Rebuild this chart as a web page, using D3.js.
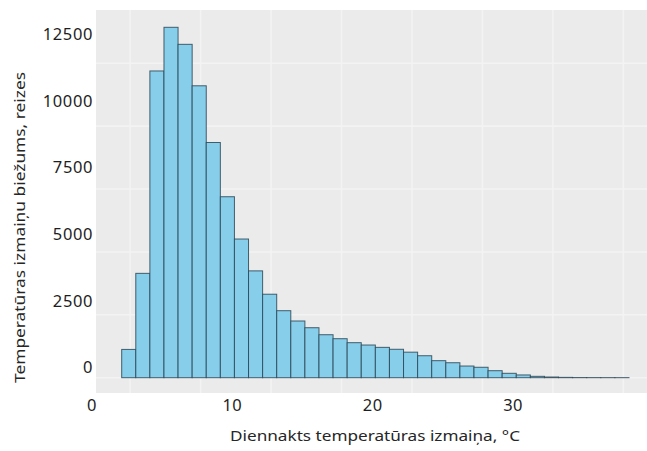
<!DOCTYPE html>
<html><head><meta charset="utf-8">
<script src="https://cdn.jsdelivr.net/npm/d3@7"></script>
<style>body{margin:0;background:#fff;} svg{display:block}</style>
</head><body><svg id="c" width="647" height="451"></svg>
<script>
// bins of width 1 °C, starting at 2 °C
const binStarts = [2,3,4,5,6,7,8,9,10,11,12,13,14,15,16,17,18,19,20,21,22,23,24,25,26,27,28,29,30,31,32,33,34,35,36,37];
const counts = [1030,3800,11170,12760,12140,10630,8565,6590,5050,3890,3040,2440,2065,1820,1565,1420,1275,1190,1105,1035,930,800,620,545,425,380,255,160,100,50,25,12,6,4,3,2];
const yTickValues = [0,2500,5000,7500,10000,12500];
const xTickValues = [0,10,20,30];
const xGridValues = [2.6,7.6,12.6,17.6,22.6,27.6,32.6,37.6];
const yGridValues = [0,2290,4580,6870,9160,11450];
const xTitle = "Diennakts temperatūras izmaiņa, °C";
const yTitle = "Temperatūras izmaiņu biežums, reizes";

const svg = d3.select("#c");
const panel = {left:96, top:10, right:647, bottom:393};

const xBar = d3.scaleLinear().domain([2,38]).range([121.7,629]);
const yBar = d3.scaleLinear().domain([0,13390]).range([377.7,10]);
const xLab = d3.scaleLinear().domain([0,30]).range([91.5,512.5]);
const yLab = d3.scaleLinear().domain([0,12500]).range([367.5,34.2]);

svg.append("rect").attr("x",panel.left).attr("y",panel.top)
  .attr("width",panel.right-panel.left).attr("height",panel.bottom-panel.top)
  .attr("fill","#ebebeb");

const grid = svg.append("g").attr("stroke","#f3f3f3").attr("stroke-width",1.6);
grid.selectAll("line.v").data(xGridValues).join("line").attr("class","v")
  .attr("x1",d=>xBar(d)).attr("x2",d=>xBar(d)).attr("y1",panel.top).attr("y2",panel.bottom);
grid.selectAll("line.h").data(yGridValues).join("line").attr("class","h")
  .attr("y1",d=>yBar(d)).attr("y2",d=>yBar(d)).attr("x1",panel.left).attr("x2",panel.right);

svg.append("g").selectAll("rect").data(counts).join("rect")
  .attr("x",(d,i)=>xBar(binStarts[i]))
  .attr("width",(d,i)=>xBar(binStarts[i]+1)-xBar(binStarts[i]))
  .attr("y",d=>yBar(d))
  .attr("height",d=>yBar(0)-yBar(d))
  .attr("fill","#87ceeb")
  .attr("stroke","#2a4656").attr("stroke-opacity",0.85).attr("stroke-width",1);

const yAx = svg.append("g").attr("transform",`translate(${panel.left},0)`)
  .call(d3.axisLeft(yLab).tickValues(yTickValues).tickSize(0).tickPadding(3).tickFormat(d3.format("d")));
yAx.select(".domain").remove();
yAx.selectAll("text").attr("font-family","Noto Sans").attr("font-size",16.5)
  .attr("letter-spacing",0.6).attr("fill","#1e1e1e");

const xAx = svg.append("g").attr("transform",`translate(0,${panel.bottom})`)
  .call(d3.axisBottom(xLab).tickValues(xTickValues).tickSize(0).tickPadding(6.4).tickFormat(d3.format("d")));
xAx.select(".domain").remove();
xAx.selectAll("text").attr("font-family","Noto Sans").attr("font-size",16.5)
  .attr("letter-spacing",0.4).attr("fill","#1e1e1e");

svg.append("text").attr("x",375).attr("y",440.5).attr("text-anchor","middle")
  .attr("font-family","Noto Sans").attr("font-size",15).attr("fill","#262626")
  .attr("textLength",290).attr("lengthAdjust","spacingAndGlyphs").text(xTitle);

svg.append("text").attr("transform","translate(25,227.5) rotate(-90)").attr("text-anchor","middle")
  .attr("font-family","Noto Sans").attr("font-size",15).attr("fill","#262626")
  .attr("textLength",311).attr("lengthAdjust","spacingAndGlyphs").text(yTitle);
</script></body></html>
